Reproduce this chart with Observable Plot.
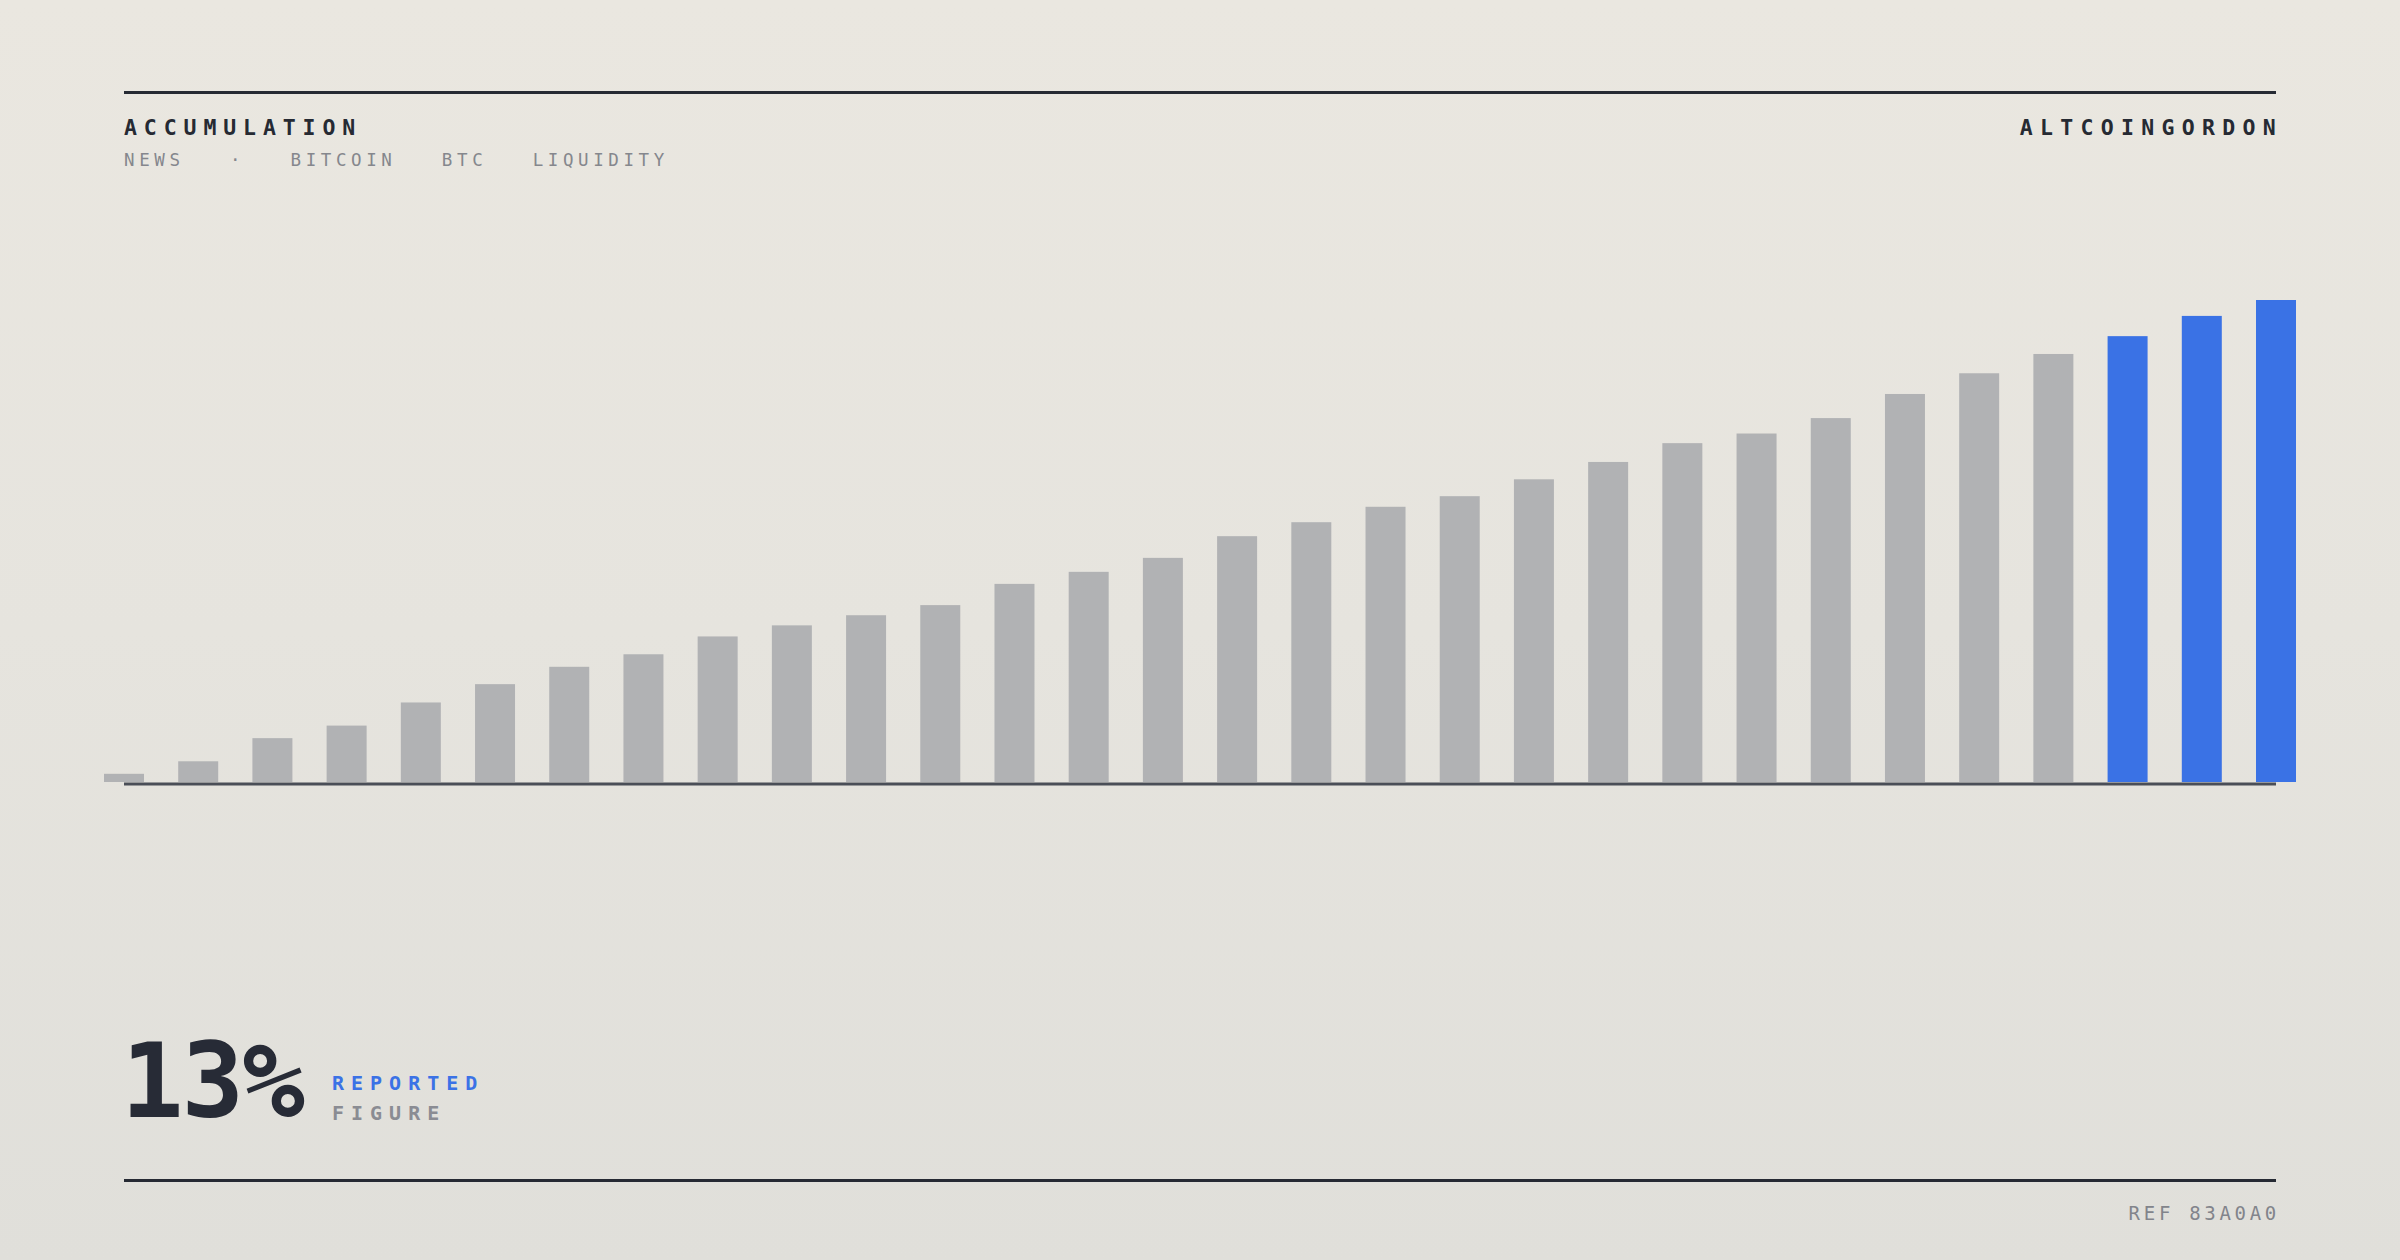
<!DOCTYPE html>
<html>
<head>
<meta charset="utf-8">
<script src="https://cdn.jsdelivr.net/npm/d3@7"></script>
<script src="https://cdn.jsdelivr.net/npm/@observablehq/plot@0.6"></script>
<style>
  html, body { margin: 0; padding: 0; }
  body { width: 2400px; height: 1260px; overflow: hidden; }
  #page {
    position: relative; width: 2400px; height: 1260px;
    background: linear-gradient(180deg, #eae7e0 0%, #e6e4de 50%, #e0dfda 100%);
    font-family: "DejaVu Sans Mono", "Liberation Mono", monospace;
  }
  .t { position: absolute; line-height: 1; white-space: pre; }
  .rule { position: absolute; left: 124px; width: 2152px; height: 3px; background: #262a33; }
  #chart { position: absolute; left: 0; top: 280px; }
</style>
</head>
<body>
<div id="page">
  <div class="rule" style="top:90.5px"></div>
  <div class="t" id="title" style="left:124px; top:116.7px; font-size:21.5px; font-weight:bold; letter-spacing:6.9px; color:#262a33"></div>
  <div class="t" id="subtitle" style="left:124px; top:152.1px; font-size:17.5px; letter-spacing:4.6px; color:#85878d"></div>
  <div class="t" id="brand" style="right:117px; top:116.7px; font-size:21.5px; font-weight:bold; letter-spacing:7.3px; color:#262a33"></div>
  <div id="chart"></div>
  <div class="t" id="big" style="left:121px; top:1028.8px; font-size:104px; font-weight:bold; letter-spacing:-2px; color:#272b36"></div>
  <div class="t" id="lab1" style="left:332px; top:1073.4px; font-size:20px; font-weight:bold; letter-spacing:7px; color:#3b72e6"></div>
  <div class="t" id="lab2" style="left:332px; top:1103.4px; font-size:20px; font-weight:bold; letter-spacing:7px; color:#8a8c93"></div>
  <div class="rule" style="top:1178.5px"></div>
  <div class="t" id="ref" style="right:120px; top:1203.9px; font-size:19px; letter-spacing:3.7px; color:#82848b"></div>
</div>
<script>
// ---- texts ----
const titleText = "ACCUMULATION";
const subtitleText = "NEWS   ·   BITCOIN   BTC   LIQUIDITY";
const brandText = "ALTCOINGORDON";
const bigFigure = "13%";
const figureLabel1 = "REPORTED";
const figureLabel2 = "FIGURE";
const refText = "REF 83A0A0";

// ---- data ----
const periods = [1, 2, 3, 4, 5, 6, 7, 8, 9, 10, 11, 12, 13, 14, 15,
                 16, 17, 18, 19, 20, 21, 22, 23, 24, 25, 26, 27, 28, 29, 30];
const values = [1.7, 4.3, 9.1, 11.7, 16.5, 20.3, 23.9, 26.5, 30.2, 32.5,
                34.6, 36.7, 41.1, 43.6, 46.5, 51.0, 53.9, 57.1, 59.3, 62.8,
                66.4, 70.3, 72.3, 75.5, 80.5, 84.8, 88.8, 92.5, 96.7, 100];
const highlightLast = 3;

const grey = "#b1b2b4";
const blue = "#3a72e5";

document.getElementById("title").textContent = titleText;
document.getElementById("subtitle").textContent = subtitleText;
document.getElementById("brand").textContent = brandText;
document.getElementById("big").textContent = bigFigure;
document.getElementById("lab1").textContent = figureLabel1;
document.getElementById("lab2").textContent = figureLabel2;
document.getElementById("ref").textContent = refText;

const table = periods.map((p, i) => ({
  period: p,
  value: values[i],
  highlight: i >= periods.length - highlightLast
}));

const chart = Plot.plot({
  width: 2400,
  height: 520,
  marginTop: 20,
  marginBottom: 18,
  marginLeft: 104,
  marginRight: 104,
  style: { background: "transparent", overflow: "visible" },
  x: { type: "band", domain: periods, axis: null, paddingInner: 0.461, paddingOuter: 0, round: false },
  y: { domain: [0, 100], axis: null },
  marks: [
    Plot.barY(table, { x: "period", y: "value", fill: d => d.highlight ? blue : grey }),
    Plot.ruleY([0], { stroke: "#4a4e57", strokeWidth: 3, insetLeft: 20, insetRight: 20, dy: 1.5 })
  ]
});
document.getElementById("chart").appendChild(chart);
</script>
</body>
</html>
